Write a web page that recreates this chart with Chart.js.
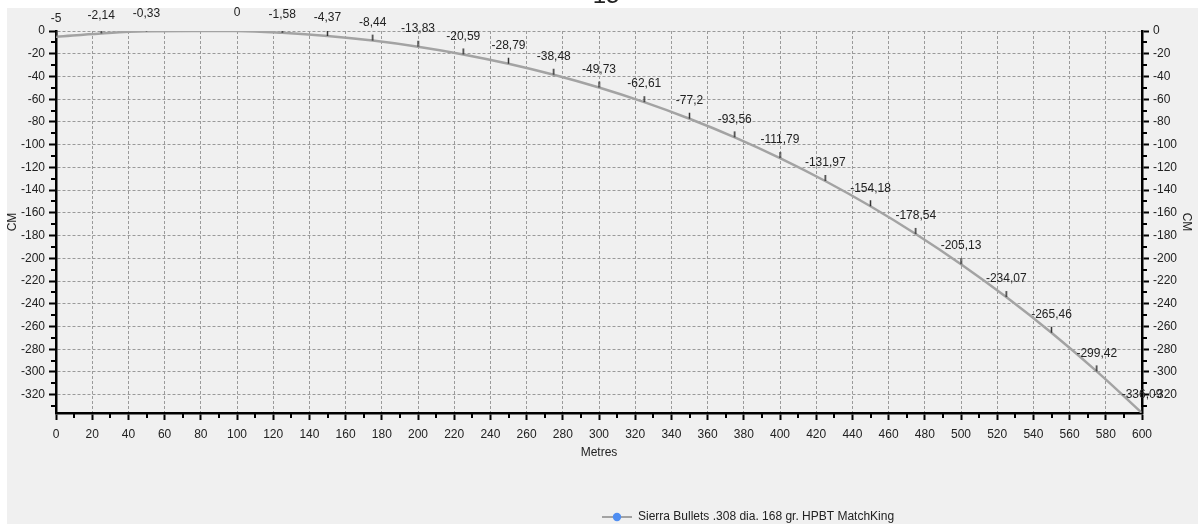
<!DOCTYPE html>
<html>
<head>
<meta charset="utf-8">
<script src="https://cdn.jsdelivr.net/npm/chart.js@4/dist/chart.umd.min.js"></script>
<style>
  html, body { margin: 0; padding: 0; background: #ffffff; }
  #wrap { width: 1198px; height: 524px; position: relative; }
</style>
</head>
<body>
<div id="wrap"><canvas id="c" width="1198" height="524"></canvas></div>
<script>
// Trajectory table: distance (m) and drop (cm)
const distances = [0, 25, 50, 100, 125, 150, 175, 200, 225, 250, 275, 300, 325,
                   350, 375, 400, 425, 450, 475, 500, 525, 550, 575, 600];
const drops = [-5, -2.14, -0.33, 0, -1.58, -4.37, -8.44, -13.83, -20.59, -28.79,
               -38.48, -49.73, -62.61, -77.2, -93.56, -111.79, -131.97, -154.18,
               -178.54, -205.13, -234.07, -265.46, -299.42, -336.09];

const seriesName = 'Sierra Bullets .308 dia. 168 gr. HPBT MatchKing';
const chartTitle = '15';
const xAxisTitle = 'Metres';
const yAxisTitle = 'CM';
const xRange = [0, 600];
const yRange = [-336.09, 0];

const FONT = '"Liberation Sans", Arial, sans-serif';
const TEXT = '#222222';
Chart.defaults.font.family = FONT;
Chart.defaults.font.size = 12;
Chart.defaults.color = TEXT;

// small vertical marker drawn above each point
const marker = document.createElement('canvas');
marker.width = 3; marker.height = 14;
{
  const m = marker.getContext('2d');
  m.strokeStyle = '#333333';
  m.lineWidth = 1.5;
  m.beginPath(); m.moveTo(1.5, 1); m.lineTo(1.5, 7); m.stroke();
}

const fmt = v => String(v).replace('.', ',');

// grey panel + partial heading
const panelPlugin = {
  id: 'panel',
  beforeDraw(chart) {
    const ctx = chart.ctx;
    ctx.save();
    ctx.fillStyle = '#ffffff';
    ctx.fillRect(0, 0, chart.width, chart.height);
    ctx.fillStyle = '#f0f0f0';
    ctx.fillRect(7, 8, chart.width - 7, chart.height - 8);
    ctx.fillStyle = TEXT;
    ctx.font = '24px ' + FONT;
    ctx.textAlign = 'center';
    ctx.textBaseline = 'alphabetic';
    ctx.fillText(chartTitle, 606, 3);
    ctx.restore();
  }
};

// minor ticks halfway between labelled ticks
const minorTicksPlugin = {
  id: 'minorTicks',
  afterDraw(chart) {
    const ctx = chart.ctx;
    const {x, y} = chart.scales;
    const a = chart.chartArea;
    ctx.save();
    ctx.strokeStyle = '#000000';
    ctx.lineWidth = 2;
    ctx.setLineDash([]);
    ctx.beginPath();
    for (let v = 10; v < xRange[1]; v += 20) {
      const px = Math.round(x.getPixelForValue(v));
      ctx.moveTo(px, a.bottom); ctx.lineTo(px, a.bottom + 5);
    }
    for (let v = -10; v > yRange[0]; v -= 20) {
      const py = Math.round(y.getPixelForValue(v));
      ctx.moveTo(a.left, py); ctx.lineTo(a.left - 5, py);
      ctx.moveTo(a.right, py); ctx.lineTo(a.right + 5, py);
    }
    ctx.stroke();
    ctx.restore();
  }
};

// value labels above each point
const valueLabelPlugin = {
  id: 'valueLabels',
  afterDatasetsDraw(chart) {
    const ctx = chart.ctx;
    const meta = chart.getDatasetMeta(0);
    const data = chart.data.datasets[0].data;
    ctx.save();
    ctx.fillStyle = TEXT;
    ctx.font = '12px ' + FONT;
    ctx.textAlign = 'center';
    ctx.textBaseline = 'middle';
    meta.data.forEach((pt, i) => {
      ctx.fillText(fmt(data[i].y), pt.x, pt.y - 18);
    });
    ctx.restore();
  }
};

// legend entry: line with round marker
const legendPlugin = {
  id: 'legendLine',
  afterDraw(chart) {
    const ctx = chart.ctx;
    const cy = 517;
    ctx.save();
    ctx.strokeStyle = '#a3a3a3';
    ctx.lineWidth = 2;
    ctx.beginPath(); ctx.moveTo(602, cy); ctx.lineTo(632, cy); ctx.stroke();
    ctx.fillStyle = '#4f8ef2';
    ctx.beginPath(); ctx.arc(617, cy, 4.2, 0, Math.PI * 2); ctx.fill();
    ctx.fillStyle = TEXT;
    ctx.font = '12px ' + FONT;
    ctx.textAlign = 'left';
    ctx.textBaseline = 'middle';
    ctx.fillText(seriesName, 638, cy);
    ctx.restore();
  }
};

const gridCommon = {
  color: '#9a9a9a',
  lineWidth: 1,
  tickBorderDash: [],
  tickColor: '#000000',
  tickWidth: 2,
  tickLength: 7
};
const borderCommon = { color: '#000000', width: 2.5, dash: [3, 2] };

const yCommon = (pos) => ({
  type: 'linear',
  position: pos,
  min: yRange[0],
  max: yRange[1],
  afterFit(scale) { scale.width = 56; },
  border: borderCommon,
  grid: Object.assign({}, gridCommon, { drawOnChartArea: pos === 'left' }),
  ticks: { stepSize: 20, includeBounds: false, padding: 4, color: TEXT,
           callback: v => String(v) },
  title: { display: true, text: yAxisTitle, color: TEXT,
           padding: { top: pos === 'left' ? 5 : 4, bottom: 0 } }
});

new Chart(document.getElementById('c'), {
  type: 'line',
  data: {
    datasets: [{
      label: seriesName,
      data: distances.map((d, i) => ({ x: d, y: drops[i] })),
      borderColor: '#a3a3a3',
      borderWidth: 2.5,
      tension: 0.4,
      clip: 0,
      pointStyle: marker,
      pointRadius: 3,
      pointHoverRadius: 3
    }]
  },
  options: {
    responsive: false,
    animation: false,
    devicePixelRatio: 1,
    layout: { padding: { top: 31, bottom: 51, left: 0, right: 0 } },
    plugins: {
      legend: { display: false },
      title: { display: false },
      tooltip: { enabled: false }
    },
    scales: {
      x: {
        type: 'linear',
        position: 'bottom',
        min: xRange[0],
        max: xRange[1],
        afterFit(scale) { scale.height = 60; },
        border: borderCommon,
        grid: gridCommon,
        ticks: { stepSize: 20, padding: 7, color: TEXT, maxRotation: 0,
                 autoSkip: false, callback: v => String(v) },
        title: { display: true, text: xAxisTitle, color: TEXT,
                 padding: { top: 0, bottom: 13 } }
      },
      y: yCommon('left'),
      y2: yCommon('right')
    }
  },
  plugins: [panelPlugin, minorTicksPlugin, valueLabelPlugin, legendPlugin]
});
</script>
</body>
</html>
